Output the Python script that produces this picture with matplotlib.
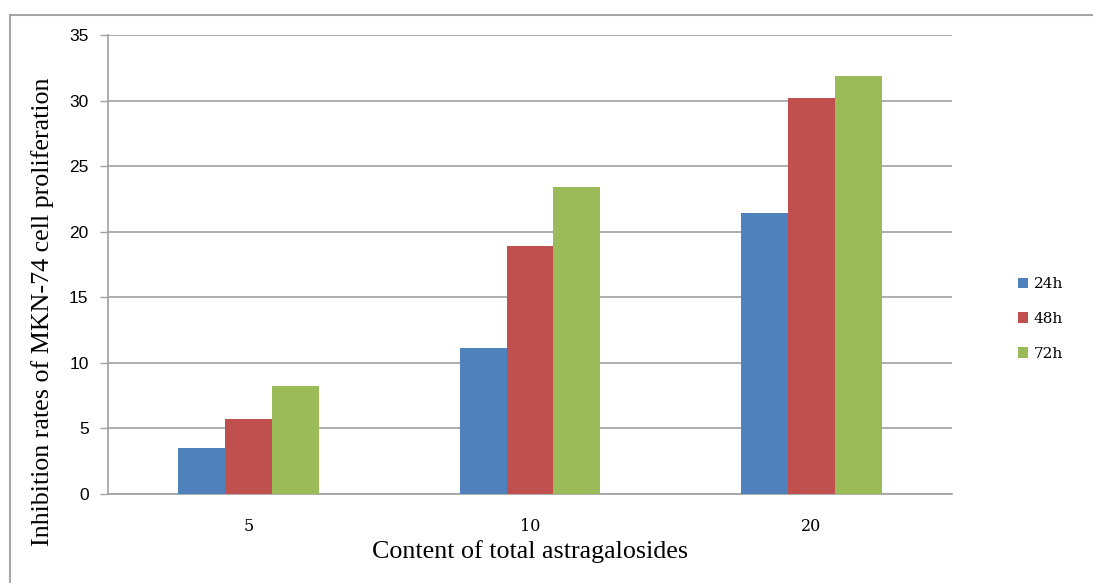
import numpy as np
import matplotlib
matplotlib.use("Agg")
import matplotlib.pyplot as plt
from matplotlib.lines import Line2D

# Data
categories = ["5", "10", "20"]
series_names = ["24h", "48h", "72h"]
vals_24h = [3.5, 11.1, 21.4]
vals_48h = [5.7, 18.9, 30.2]
vals_72h = [8.2, 23.4, 31.9]
colors = ["#4F81BD", "#C0504D", "#9BBB59"]
y_ticks = [0, 5, 10, 15, 20, 25, 30, 35]

W, H = 1093, 583
fig = plt.figure(figsize=(W / 100, H / 100), dpi=100)
ax = fig.add_axes([108 / W, 1 - 494 / H, (952 - 108) / W, (494 - 35) / H])

# Outer chart frame (left and top edges)
fig.add_artist(Line2D([10 / W, 10 / W], [0, 1 - 15 / H],
                      transform=fig.transFigure, color="#a6a6a6", lw=1.5))
fig.add_artist(Line2D([10 / W, 1], [1 - 15 / H, 1 - 15 / H],
                      transform=fig.transFigure, color="#a6a6a6", lw=1.5))

x = np.arange(len(categories))
width = 1 / 6
for i, (vals, name, c) in enumerate(zip([vals_24h, vals_48h, vals_72h], series_names, colors)):
    ax.bar(x + (i - 1) * width, vals, width, color=c, label=name, zorder=3)

ax.set_xlim(-0.5, len(categories) - 0.5)
ax.set_ylim(0, 35)
ax.set_yticks(y_ticks)
ax.set_xticks(x)
ax.set_xticklabels(categories, family="DejaVu Serif", fontsize=11.5)
ax.tick_params(axis="x", length=0, pad=17)
ax.tick_params(axis="y", length=6, color="#a0a0a0", width=1, pad=8, labelsize=12.5)
for lab in ax.get_yticklabels():
    lab.set_family("Liberation Sans")

ax.yaxis.grid(True, color="#a0a0a0", lw=1.2, zorder=0)
ax.set_axisbelow(True)
for s in ["top", "right"]:
    ax.spines[s].set_visible(False)
for s in ["left", "bottom"]:
    ax.spines[s].set_color("#a0a0a0")
    ax.spines[s].set_linewidth(1.2)

ax.set_xlabel("Content of total astragalosides", family="Liberation Serif",
              fontsize=18.7, labelpad=4)
ax.set_ylabel("Inhibition rates of MKN-74 cell proliferation", family="Liberation Serif",
              fontsize=18.7)
ax.yaxis.set_label_coords(54 / W, 1 - 312 / H, transform=fig.transFigure)

leg = fig.legend(loc="center left", bbox_to_anchor=(1004 / W, 1 - 319 / H),
                 frameon=False, handlelength=0.7, handleheight=0.7, handletextpad=0.35,
                 labelspacing=1.35, prop={"family": "DejaVu Serif", "size": 11})

fig.savefig("out.png", dpi=100)
